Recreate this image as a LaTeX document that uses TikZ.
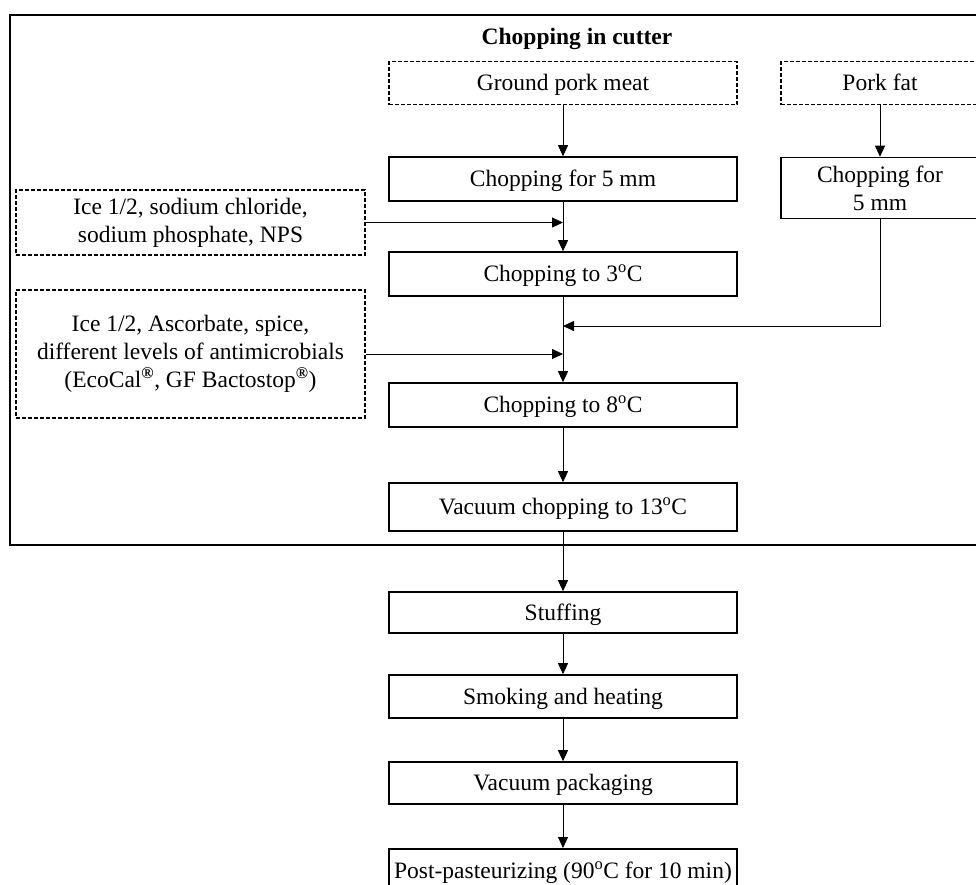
\documentclass[tikz,border=0pt]{standalone}
\usepackage{fontspec}
\setmainfont{Liberation Serif}
\usetikzlibrary{positioning,calc,arrows.meta}

\tikzset{
    stepbox/.style={draw, line width=1.6pt, minimum width=348pt, minimum height=44pt, inner sep=2pt, align=center},
    inbox/.style={draw, dashed, dash pattern=on 4pt off 2pt, line width=1.3pt, minimum height=43pt, inner sep=2pt, align=center},
    oneline/.style={text height=20pt, text depth=5pt},
    flow/.style={-{Triangle[length=11pt,width=10pt]}, line width=0.8pt}
}

\begin{document}
\begin{tikzpicture}[x=1pt, y=1pt, font=\fontsize{23.5pt}{28pt}\selectfont]
    \useasboundingbox (0,0) rectangle (976,-884);

    % Cutter frame
    \draw[line width=1.6pt] (10,-15) rectangle (990,-545);
    \node[font=\fontsize{23.5pt}{28pt}\selectfont\bfseries] (title) at (577,-39) {Chopping in cutter};

    % Raw materials
    \node[inbox, oneline, minimum width=348pt] (meat) at (563,-83) {Ground pork meat};
    \node[inbox, oneline, minimum width=198pt] (fat) at (880,-83) {Pork fat};

    % Chopping steps
    \node[stepbox, oneline] (chop5) at (563,-179) {Chopping for 5 mm};
    \node[stepbox, minimum width=198pt, minimum height=61pt] (fatchop) at (880,-188) {Chopping for\\5 mm};
    \node[stepbox, oneline] (chop3) at (563,-274) {Chopping to 3\textsuperscript{o}C};
    \node[stepbox, oneline] (chop8) at (563,-405) {Chopping to 8\textsuperscript{o}C};
    \node[stepbox, oneline, minimum height=48pt] (vacchop) at (563,-507) {Vacuum chopping to 13\textsuperscript{o}C};

    % Additives
    \node[inbox, minimum width=349pt, minimum height=65pt] (ice1) at (190.5,-222.5)
        {Ice 1/2, sodium chloride,\\sodium phosphate, NPS};
    \node[inbox, minimum width=349pt, minimum height=128pt] (ice2) at (190.5,-354)
        {Ice 1/2, Ascorbate, spice,\\different levels of antimicrobials\\(EcoCal\textsuperscript{\textbf{®}}, GF Bactostop\textsuperscript{\textbf{®}})};

    % Further processing
    \node[stepbox, oneline, minimum height=41pt] (stuff) at (563,-612.5) {Stuffing};
    \node[stepbox, oneline, minimum height=43pt] (smoke) at (563,-696.5) {Smoking and heating};
    \node[stepbox, oneline, minimum height=42pt] (pack) at (563,-783) {Vacuum packaging};
    \node[stepbox, oneline, anchor=north, minimum height=44pt] (past) at (563,-848)
        {Post-pasteurizing (90\textsuperscript{o}C for 10 min)};

    % Connectors
    \coordinate (join1) at (ice1.east -| chop3.north);
    \coordinate (join2) at (chop3.south |- 0,-326);
    \coordinate (join3) at (ice2.east -| chop8.north);

    \draw[flow] (meat) -- (chop5);
    \draw[flow] (fat) -- (fatchop);
    \draw[flow] (chop5) -- (chop3);
    \draw[flow] (ice1.east) -- (join1);
    \draw[flow] (fatchop.south) |- (join2);
    \draw[flow] (chop3) -- (chop8);
    \draw[flow] (ice2.east) -- (join3);
    \draw[flow] (chop8) -- (vacchop);
    \draw[flow] (vacchop) -- (stuff);
    \draw[flow] (stuff) -- (smoke);
    \draw[flow] (smoke) -- (pack);
    \draw[flow] (pack) -- (past);
\end{tikzpicture}
\end{document}
